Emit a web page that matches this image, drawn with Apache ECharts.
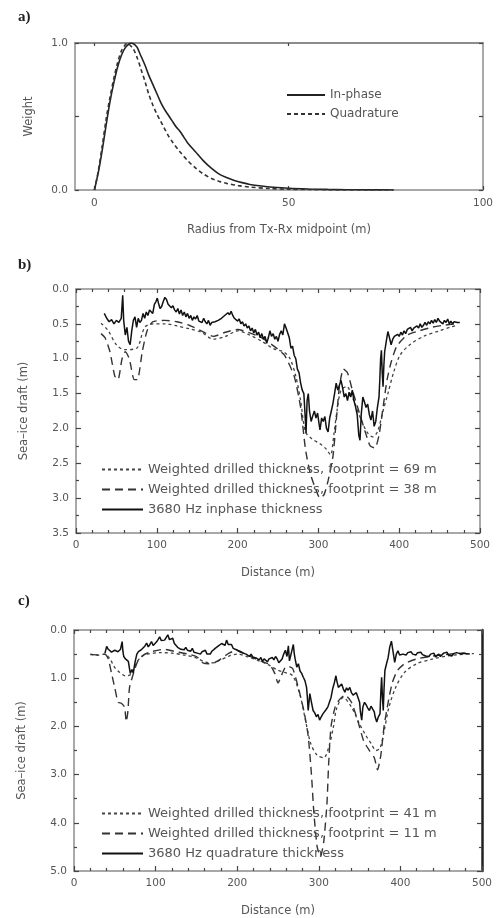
<!DOCTYPE html>
<html>
<head>
<meta charset="utf-8">
<script src="https://cdn.jsdelivr.net/npm/echarts@6/dist/echarts.min.js"></script>
<style>
  html, body { margin: 0; padding: 0; background: #fff; }
  #chart { width: 496px; height: 918px; }
</style>
</head>
<body>
<div id="chart"></div>
<script>
// ---------- (a) footprint weighting functions ----------
const inPhaseWeight = [
  [0,0],[1,0.12],[2,0.27],[3,0.44],[4,0.6],[5,0.73],[6,0.84],[7,0.92],[8,0.97],[9,0.995],[9.5,1.0],
  [10,0.995],[10.5,0.985],[11,0.97],[12,0.91],[13,0.85],[14,0.78],[15,0.72],[16,0.66],[17,0.6],[18,0.55],
  [19,0.51],[20,0.47],[21,0.43],[22,0.4],[23,0.36],[24,0.32],[26,0.26],[28,0.2],[30,0.15],[32,0.11],
  [34,0.085],[36,0.065],[38,0.05],[40,0.038],[43,0.027],[46,0.019],[50,0.012],[55,0.007],[60,0.004],
  [65,0.002],[70,0.001],[77,0]
];
const quadratureWeight = [
  [0,0],[1,0.13],[2,0.3],[3,0.48],[4,0.63],[5,0.76],[6,0.87],[7,0.95],[8,0.99],[8.5,1.0],[9,0.99],
  [10,0.96],[11,0.9],[12,0.82],[13,0.74],[14,0.65],[15,0.58],[16,0.52],[17,0.47],[18,0.42],[19,0.37],
  [20,0.33],[22,0.26],[24,0.2],[26,0.15],[28,0.11],[30,0.08],[32,0.06],[34,0.045],[37,0.03],[40,0.02],
  [45,0.01],[50,0.005],[55,0.003],[60,0.001],[70,0],[77,0]
];

// ---------- (b) in-phase comparison ----------
const drilled69m = [
  [31,0.49],[40,0.6],[50,0.8],[60,0.87],[75,0.85],[85,0.55],[95,0.5],[110,0.5],[125,0.53],[140,0.57],
  [155,0.62],[170,0.72],[185,0.68],[200,0.6],[215,0.66],[230,0.75],[245,0.86],[257,0.9],[265,1.0],
  [272,1.25],[278,1.6],[284,2.05],[292,2.15],[302,2.22],[310,2.3],[315,2.38],[319,2.1],[323,1.75],
  [328,1.45],[335,1.4],[343,1.58],[352,1.85],[360,2.05],[367,2.12],[373,2.05],[380,1.75],[386,1.5],
  [393,1.2],[401,0.95],[413,0.8],[430,0.68],[450,0.6],[465,0.54],[472,0.52]
];
const drilled38m = [
  [31,0.64],[36,0.7],[42,0.9],[48,1.25],[52,1.3],[57,1.0],[61,0.9],[66,1.0],[72,1.3],[76,1.3],[82,0.9],
  [88,0.6],[95,0.47],[110,0.45],[125,0.47],[140,0.52],[155,0.6],[170,0.68],[185,0.62],[200,0.58],
  [215,0.63],[230,0.7],[245,0.82],[258,0.95],[270,1.25],[278,1.7],[284,2.3],[290,2.65],[296,2.85],
  [302,3.0],[307,2.95],[312,2.75],[318,2.4],[322,1.9],[326,1.4],[331,1.15],[336,1.2],[342,1.45],
  [350,1.75],[358,2.05],[364,2.25],[370,2.28],[375,2.1],[380,1.7],[385,1.3],[390,1.05],[397,0.82],
  [410,0.66],[425,0.6],[440,0.55],[455,0.52],[470,0.5]
];
const inphaseThickness = [
  [35,0.35],[38,0.42],[41,0.47],[44,0.44],[47,0.5],[50,0.45],[53,0.48],[56,0.42],[57.8,0.09],[59,0.45],
  [61,0.66],[63,0.55],[65,0.75],[67,0.8],[69,0.6],[71,0.45],[73,0.4],[75,0.55],[77,0.42],[79,0.48],
  [81,0.45],[83,0.35],[85,0.42],[87,0.33],[89,0.38],[91,0.3],[93,0.28],[95,0.35],[97,0.22],[99,0.18],
  [100.6,0.13],[102,0.2],[104,0.28],[106,0.25],[108,0.18],[110,0.12],[112,0.15],[114,0.22],[116,0.2],
  [118,0.27],[120,0.24],[122,0.3],[124,0.33],[126,0.28],[128,0.36],[130,0.3],[132,0.38],[134,0.33],
  [136,0.4],[138,0.35],[140,0.42],[142,0.38],[144,0.45],[146,0.4],[148,0.43],[150,0.38],[152,0.46],
  [154,0.44],[156,0.48],[158,0.42],[160,0.47],[162,0.5],[164,0.45],[166,0.52],[168,0.48],[170,0.5],
  [172,0.47],[174,0.49],[176,0.45],[178,0.47],[180,0.42],[182,0.44],[184,0.38],[186,0.4],[188,0.34],
  [190,0.37],[192,0.32],[194,0.38],[196,0.42],[198,0.4],[200,0.46],[202,0.43],[204,0.5],[206,0.47],
  [208,0.53],[210,0.5],[212,0.56],[214,0.53],[216,0.6],[218,0.56],[220,0.63],[222,0.58],[224,0.66],
  [226,0.62],[228,0.7],[230,0.64],[232,0.72],[234,0.68],[236,0.78],[238,0.7],[240,0.6],[242,0.68],
  [244,0.64],[246,0.72],[248,0.68],[250,0.75],[252,0.65],[254,0.6],[256,0.66],[258,0.5],[260,0.56],
  [262,0.55],[264,0.7],[266,0.85],[268,0.82],[270,0.95],[272,1.0],[274,1.15],[276,1.2],[278,1.35],
  [280,1.45],[282,1.5],[283,1.7],[284.7,2.07],[286,1.6],[287.5,1.5],[289,1.75],[291,1.9],[293,1.82],
  [295,1.75],[297,1.85],[299,1.78],[301,1.95],[302,2.02],[304,1.85],[306,1.9],[308,1.83],[310,2.0],
  [312,2.05],[314,1.85],[316,1.75],[318,1.64],[320,1.5],[322,1.35],[324,1.45],[326,1.38],[328,1.31],
  [330,1.42],[332,1.55],[334,1.5],[336,1.6],[338,1.48],[340,1.55],[342,1.45],[344,1.6],[346,1.69],
  [348,1.8],[350,2.1],[351.5,2.17],[353,1.8],[355,1.55],[357,1.62],[359,1.7],[361,1.65],[363,1.8],
  [365,1.88],[367,1.75],[369,1.97],[371,1.9],[373,1.7],[375,1.55],[376,1.3],[377,1.0],[378,0.88],
  [379,1.2],[380,1.4],[381,1.1],[382,0.9],[384,0.75],[386,0.61],[388,0.7],[390,0.8],[392,0.72],
  [394,0.68],[396,0.7],[398,0.65],[400,0.68],[402,0.62],[404,0.66],[406,0.6],[408,0.64],[410,0.58],
  [412,0.6],[414,0.55],[416,0.6],[418,0.56],[420,0.58],[422,0.53],[424,0.56],[426,0.5],[428,0.55],
  [430,0.52],[432,0.48],[434,0.52],[436,0.47],[438,0.5],[440,0.45],[442,0.49],[444,0.44],[446,0.48],
  [448,0.42],[450,0.46],[452,0.44],[454,0.5],[456,0.45],[458,0.48],[460,0.43],[462,0.5],[464,0.46],
  [466,0.5],[468,0.47],[470,0.49],[472,0.48],[475,0.48]
];

// ---------- (c) quadrature comparison ----------
const drilled41m = [
  [20,0.51],[30,0.52],[38,0.5],[44,0.6],[50,0.78],[56,0.88],[63,0.95],[70,0.92],[76,0.7],[82,0.56],
  [90,0.5],[105,0.47],[120,0.48],[135,0.52],[150,0.58],[160,0.66],[170,0.68],[180,0.62],[190,0.54],
  [200,0.5],[212,0.55],[225,0.63],[238,0.72],[248,0.82],[258,0.88],[268,0.95],[277,1.35],[284,1.9],
  [290,2.35],[298,2.6],[306,2.65],[313,2.38],[318,2.0],[322,1.62],[330,1.4],[340,1.6],[350,1.95],
  [358,2.2],[364,2.35],[370,2.5],[375,2.45],[380,2.1],[386,1.6],[394,1.2],[405,0.88],[420,0.7],
  [440,0.6],[460,0.53],[480,0.5],[490,0.49]
];
const drilled11m = [
  [20,0.5],[30,0.52],[38,0.5],[42,0.6],[46,0.9],[50,1.2],[54,1.5],[58,1.52],[62,1.6],[64,1.9],[66,1.7],
  [68,1.2],[72,0.95],[78,0.65],[85,0.52],[95,0.45],[110,0.4],[125,0.45],[140,0.5],[150,0.55],
  [158,0.68],[165,0.7],[172,0.68],[180,0.6],[190,0.48],[200,0.42],[210,0.5],[220,0.58],[230,0.65],
  [240,0.72],[246,0.9],[250,1.1],[254,0.95],[258,0.8],[262,0.75],[268,0.8],[275,1.2],[282,1.7],
  [287,2.2],[291,3.0],[294,3.8],[298,4.5],[302,4.7],[306,4.4],[310,3.6],[312,2.8],[315,2.0],[320,1.6],
  [325,1.45],[332,1.35],[340,1.5],[348,1.9],[355,2.3],[362,2.5],[368,2.65],[372,2.9],[376,2.6],
  [380,2.0],[385,1.5],[390,1.1],[396,0.85],[405,0.7],[420,0.6],[440,0.54],[460,0.5],[480,0.48]
];
const quadratureThickness = [
  [38,0.48],[40,0.34],[42,0.4],[44,0.41],[46,0.46],[48,0.48],[50,0.42],[52,0.38],[54,0.45],[56,0.48],
  [57,0.4],[59,0.24],[60,0.45],[61,0.55],[63,0.6],[65,0.58],[66.6,0.65],[68,0.8],[69,0.9],[71,0.82],
  [72.7,0.89],[74,0.75],[75,0.65],[77,0.5],[79,0.45],[81,0.42],[83,0.4],[85,0.38],[87,0.33],[89,0.27],
  [91,0.35],[93,0.3],[95,0.24],[97,0.32],[99,0.31],[101,0.25],[103,0.2],[105,0.14],[107,0.22],
  [109,0.18],[111,0.21],[113,0.25],[115,0.1],[117,0.2],[119,0.21],[121,0.17],[123,0.28],[125,0.3],
  [127,0.36],[129,0.32],[131,0.4],[133,0.38],[135,0.41],[137,0.36],[139,0.42],[141,0.4],[143,0.44],
  [145,0.38],[147,0.46],[149,0.43],[151,0.48],[153,0.44],[155,0.5],[157,0.45],[159,0.47],[161,0.42],
  [163,0.5],[165,0.46],[167,0.5],[169,0.44],[171,0.45],[173,0.38],[175,0.41],[177,0.33],[179,0.35],
  [181,0.28],[183,0.27],[185,0.32],[187,0.21],[189,0.3],[191,0.34],[193,0.3],[195,0.38],[197,0.36],
  [199,0.41],[201,0.39],[203,0.45],[205,0.42],[207,0.48],[209,0.44],[211,0.5],[213,0.47],[215,0.55],
  [217,0.5],[219,0.56],[221,0.52],[223,0.58],[225,0.55],[227,0.62],[229,0.57],[231,0.65],[233,0.6],
  [235,0.58],[237,0.66],[239,0.6],[241,0.64],[243,0.57],[245,0.62],[247,0.55],[249,0.6],[251,0.68],
  [253,0.71],[255,0.6],[257,0.5],[259,0.42],[261,0.55],[262.7,0.33],[264,0.64],[266,0.5],[268.8,0.3],
  [270,0.5],[271,0.6],[273,0.77],[275,0.7],[277,0.85],[279,0.9],[281,0.98],[283,1.05],[285,1.19],
  [286,1.4],[287,1.67],[288,1.5],[289,1.32],[291,1.5],[293,1.67],[295,1.72],[297,1.8],[299,1.75],
  [301,1.87],[303,1.8],[305,1.74],[307,1.78],[309,1.65],[311,1.6],[313,1.5],[315,1.4],[317,1.22],
  [319,1.1],[321,0.95],[322,1.05],[324,1.19],[326,1.15],[328,1.12],[330,1.22],[332,1.29],[334,1.2],
  [336,1.25],[338,1.19],[340,1.3],[342,1.35],[344,1.39],[346,1.3],[348,1.26],[350,1.5],[351,1.7],
  [352.6,1.87],[354,1.6],[356,1.5],[358,1.55],[360,1.62],[362,1.67],[364,1.58],[366,1.56],[368,1.7],
  [369,1.8],[371,1.91],[373,1.8],[375,1.74],[376,1.3],[377,0.98],[378,1.4],[379,1.67],[380,1.2],
  [381,0.84],[383,0.7],[385,0.57],[387,0.35],[389,0.23],[391,0.45],[393,0.67],[395,0.5],[397,0.43],
  [399,0.52],[401,0.48],[403,0.5],[405,0.46],[407,0.52],[409,0.47],[411,0.5],[413,0.45],[415,0.5],
  [417,0.48],[419,0.52],[421,0.47],[423,0.5],[425,0.46],[427,0.51],[429,0.49],[431,0.54],[433,0.5],
  [435,0.55],[437,0.5],[439,0.52],[441,0.48],[443,0.56],[445,0.52],[447,0.5],[449,0.55],[451,0.52],
  [453,0.48],[455,0.5],[457,0.46],[459,0.52],[461,0.5],[463,0.54],[465,0.49],[467,0.5],[469,0.47],
  [471,0.44],[473,0.49],[475,0.51],[477,0.48],[479,0.5],[481,0.49],[485,0.5]
];

// ---------- tick labels ----------
const radiusTicks = [0, 50, 100];
const radiusTopTicks = [0, 50];

// ---------- styling ----------
const FONT = 'DejaVu Sans';
const TXT = '#555';
const FRAME = '#8c8c8c';
const labelStyle = { fontFamily: FONT, fontSize: 10.5, color: TXT };
const nameStyle = { fontFamily: FONT, fontSize: 11.5, color: TXT };
const legendText = { fontFamily: FONT, fontSize: 13, color: TXT };
// legend keys show only the dashed/solid line sample, no marker
const legendMarkerOff = { opacity: 0, borderWidth: 0 };

function frameLine(color, width) {
  return { show: true, onZero: false, lineStyle: { color: color || FRAME, width: width || 1.5 } };
}
function tick(len) {
  return { show: true, inside: true, length: len, lineStyle: { color: '#444', width: 1.2 } };
}
function minor(n) {
  return { show: true, splitNumber: n, length: 3, lineStyle: { color: '#444', width: 1.2 } };
}

const chart = echarts.init(document.getElementById('chart'), null, { renderer: 'canvas' });

const option = {
  animation: false,
  backgroundColor: '#fff',
  grid: [
    { left: 75, right: 13, top: 43, height: 147 },
    { left: 76, right: 16, top: 289, height: 244 },
    { left: 74, right: 14, top: 630, height: 244 }
  ],
  xAxis: [
    // (a)
    { gridIndex: 0, type: 'value', min: -5, max: 100, position: 'bottom',
      axisLine: frameLine(), axisTick: Object.assign(tick(4), { customValues: radiusTicks }),
      axisLabel: Object.assign({ customValues: radiusTicks, margin: 8 }, labelStyle),
      splitLine: { show: false },
      name: 'Radius from Tx-Rx midpoint (m)', nameLocation: 'middle', nameGap: 34, nameTextStyle: nameStyle },
    { gridIndex: 0, type: 'value', min: -5, max: 100, position: 'top',
      axisLine: frameLine('#8c8c8c', 2), axisTick: Object.assign(tick(3), { customValues: radiusTopTicks }),
      axisLabel: { show: false }, splitLine: { show: false } },
    // (b)
    { gridIndex: 1, type: 'value', min: 0, max: 500, interval: 100, position: 'bottom',
      axisLine: frameLine(), axisTick: tick(5), minorTick: minor(5),
      axisLabel: Object.assign({ margin: 7 }, labelStyle), splitLine: { show: false }, minorSplitLine: { show: false },
      name: 'Distance (m)', nameLocation: 'middle', nameGap: 34, nameTextStyle: nameStyle },
    { gridIndex: 1, type: 'value', min: 0, max: 500, interval: 100, position: 'top',
      axisLine: frameLine(), axisTick: tick(4), minorTick: minor(5),
      axisLabel: { show: false }, splitLine: { show: false } },
    // (c)
    { gridIndex: 2, type: 'value', min: 0, max: 500, interval: 100, position: 'bottom',
      axisLine: frameLine(), axisTick: tick(5), minorTick: minor(5),
      axisLabel: Object.assign({ margin: 7 }, labelStyle), splitLine: { show: false },
      name: 'Distance (m)', nameLocation: 'middle', nameGap: 34, nameTextStyle: nameStyle },
    { gridIndex: 2, type: 'value', min: 0, max: 500, interval: 100, position: 'top',
      axisLine: frameLine(), axisTick: tick(4), minorTick: minor(5),
      axisLabel: { show: false }, splitLine: { show: false } }
  ],
  yAxis: [
    // (a)
    { gridIndex: 0, type: 'value', min: 0, max: 1, interval: 0.5, position: 'left',
      axisLine: frameLine(), axisTick: tick(4),
      axisLabel: Object.assign({ margin: 7, formatter: v => (v === 0.5 ? '' : v.toFixed(1)) }, labelStyle),
      splitLine: { show: false },
      name: 'Weight', nameLocation: 'middle', nameRotate: 90, nameGap: 40, nameTextStyle: nameStyle },
    { gridIndex: 0, type: 'value', min: 0, max: 1, interval: 0.5, position: 'right',
      axisLine: frameLine(), axisTick: tick(4), axisLabel: { show: false }, splitLine: { show: false } },
    // (b)
    { gridIndex: 1, type: 'value', min: 0, max: 3.5, interval: 0.5, inverse: true, position: 'left',
      axisLine: frameLine(), axisTick: tick(5), minorTick: minor(2),
      axisLabel: Object.assign({ margin: 7, formatter: v => v.toFixed(1) }, labelStyle),
      splitLine: { show: false },
      name: 'Sea–ice draft (m)', nameLocation: 'middle', nameRotate: 90, nameGap: 46, nameTextStyle: nameStyle },
    { gridIndex: 1, type: 'value', min: 0, max: 3.5, interval: 0.5, inverse: true, position: 'right',
      axisLine: frameLine(), axisTick: tick(5), minorTick: minor(2),
      axisLabel: { show: false }, splitLine: { show: false } },
    // (c)
    { gridIndex: 2, type: 'value', min: 0, max: 5, interval: 1, inverse: true, position: 'left',
      axisLine: frameLine(), axisTick: tick(5), minorTick: minor(2),
      axisLabel: Object.assign({ margin: 7, formatter: v => v.toFixed(1) }, labelStyle),
      splitLine: { show: false },
      name: 'Sea–ice draft (m)', nameLocation: 'middle', nameRotate: 90, nameGap: 46, nameTextStyle: nameStyle },
    { gridIndex: 2, type: 'value', min: 0, max: 5, interval: 1, inverse: true, position: 'right',
      axisLine: frameLine('#222', 2.5), axisTick: tick(5), minorTick: minor(2),
      axisLabel: { show: false }, splitLine: { show: false } }
  ],
  legend: [
    { orient: 'vertical', left: 281, top: 84, itemWidth: 38, itemHeight: 12, itemGap: 7,
      itemStyle: legendMarkerOff, textStyle: Object.assign({}, legendText, { fontSize: 12 }),
      data: ['In-phase', 'Quadrature'] },
    { orient: 'vertical', left: 96, top: 458, itemWidth: 41, itemHeight: 12, itemGap: 7,
      itemStyle: legendMarkerOff, textStyle: legendText,
      data: ['Weighted drilled thickness, footprint = 69 m', 'Weighted drilled thickness, footprint = 38 m', '3680 Hz inphase thickness'] },
    { orient: 'vertical', left: 96, top: 802, itemWidth: 41, itemHeight: 12, itemGap: 7,
      itemStyle: legendMarkerOff, textStyle: legendText,
      data: ['Weighted drilled thickness, footprint = 41 m', 'Weighted drilled thickness, footprint = 11 m', '3680 Hz quadrature thickness'] }
  ],
  graphic: [
    { type: 'text', left: 18, top: 10, style: { text: 'a)', font: 'bold 15px "Liberation Serif"', fill: '#222' } },
    { type: 'text', left: 18, top: 258, style: { text: 'b)', font: 'bold 15px "Liberation Serif"', fill: '#222' } },
    { type: 'text', left: 18, top: 594, style: { text: 'c)', font: 'bold 15px "Liberation Serif"', fill: '#222' } }
  ],
  series: [
    { name: 'In-phase', type: 'line', xAxisIndex: 0, yAxisIndex: 0, data: inPhaseWeight,
      symbol: 'none', smooth: 0.3, lineStyle: { color: '#222', width: 1.6, type: 'solid' }, itemStyle: { color: '#222' } },
    { name: 'Quadrature', type: 'line', xAxisIndex: 0, yAxisIndex: 0, data: quadratureWeight,
      symbol: 'none', smooth: 0.3, lineStyle: { color: '#333', width: 1.6, type: [4, 3] }, itemStyle: { color: '#333' } },

    { name: 'Weighted drilled thickness, footprint = 69 m', type: 'line', xAxisIndex: 2, yAxisIndex: 2, data: drilled69m,
      symbol: 'none', smooth: 0.3, lineStyle: { color: '#444', width: 1.3, type: [3, 3] }, itemStyle: { color: '#444' } },
    { name: 'Weighted drilled thickness, footprint = 38 m', type: 'line', xAxisIndex: 2, yAxisIndex: 2, data: drilled38m,
      symbol: 'none', smooth: 0.2, lineStyle: { color: '#333', width: 1.4, type: [8, 5] }, itemStyle: { color: '#333' } },
    { name: '3680 Hz inphase thickness', type: 'line', xAxisIndex: 2, yAxisIndex: 2, data: inphaseThickness,
      symbol: 'none', lineStyle: { color: '#111', width: 1.5, type: 'solid' }, itemStyle: { color: '#111' } },

    { name: 'Weighted drilled thickness, footprint = 41 m', type: 'line', xAxisIndex: 4, yAxisIndex: 4, data: drilled41m,
      symbol: 'none', smooth: 0.3, lineStyle: { color: '#444', width: 1.3, type: [3, 3] }, itemStyle: { color: '#444' } },
    { name: 'Weighted drilled thickness, footprint = 11 m', type: 'line', xAxisIndex: 4, yAxisIndex: 4, data: drilled11m,
      symbol: 'none', smooth: 0.2, lineStyle: { color: '#333', width: 1.4, type: [8, 5] }, itemStyle: { color: '#333' } },
    { name: '3680 Hz quadrature thickness', type: 'line', xAxisIndex: 4, yAxisIndex: 4, data: quadratureThickness,
      symbol: 'none', lineStyle: { color: '#111', width: 1.5, type: 'solid' }, itemStyle: { color: '#111' } }
  ]
};

chart.setOption(option);
</script>
</body>
</html>
